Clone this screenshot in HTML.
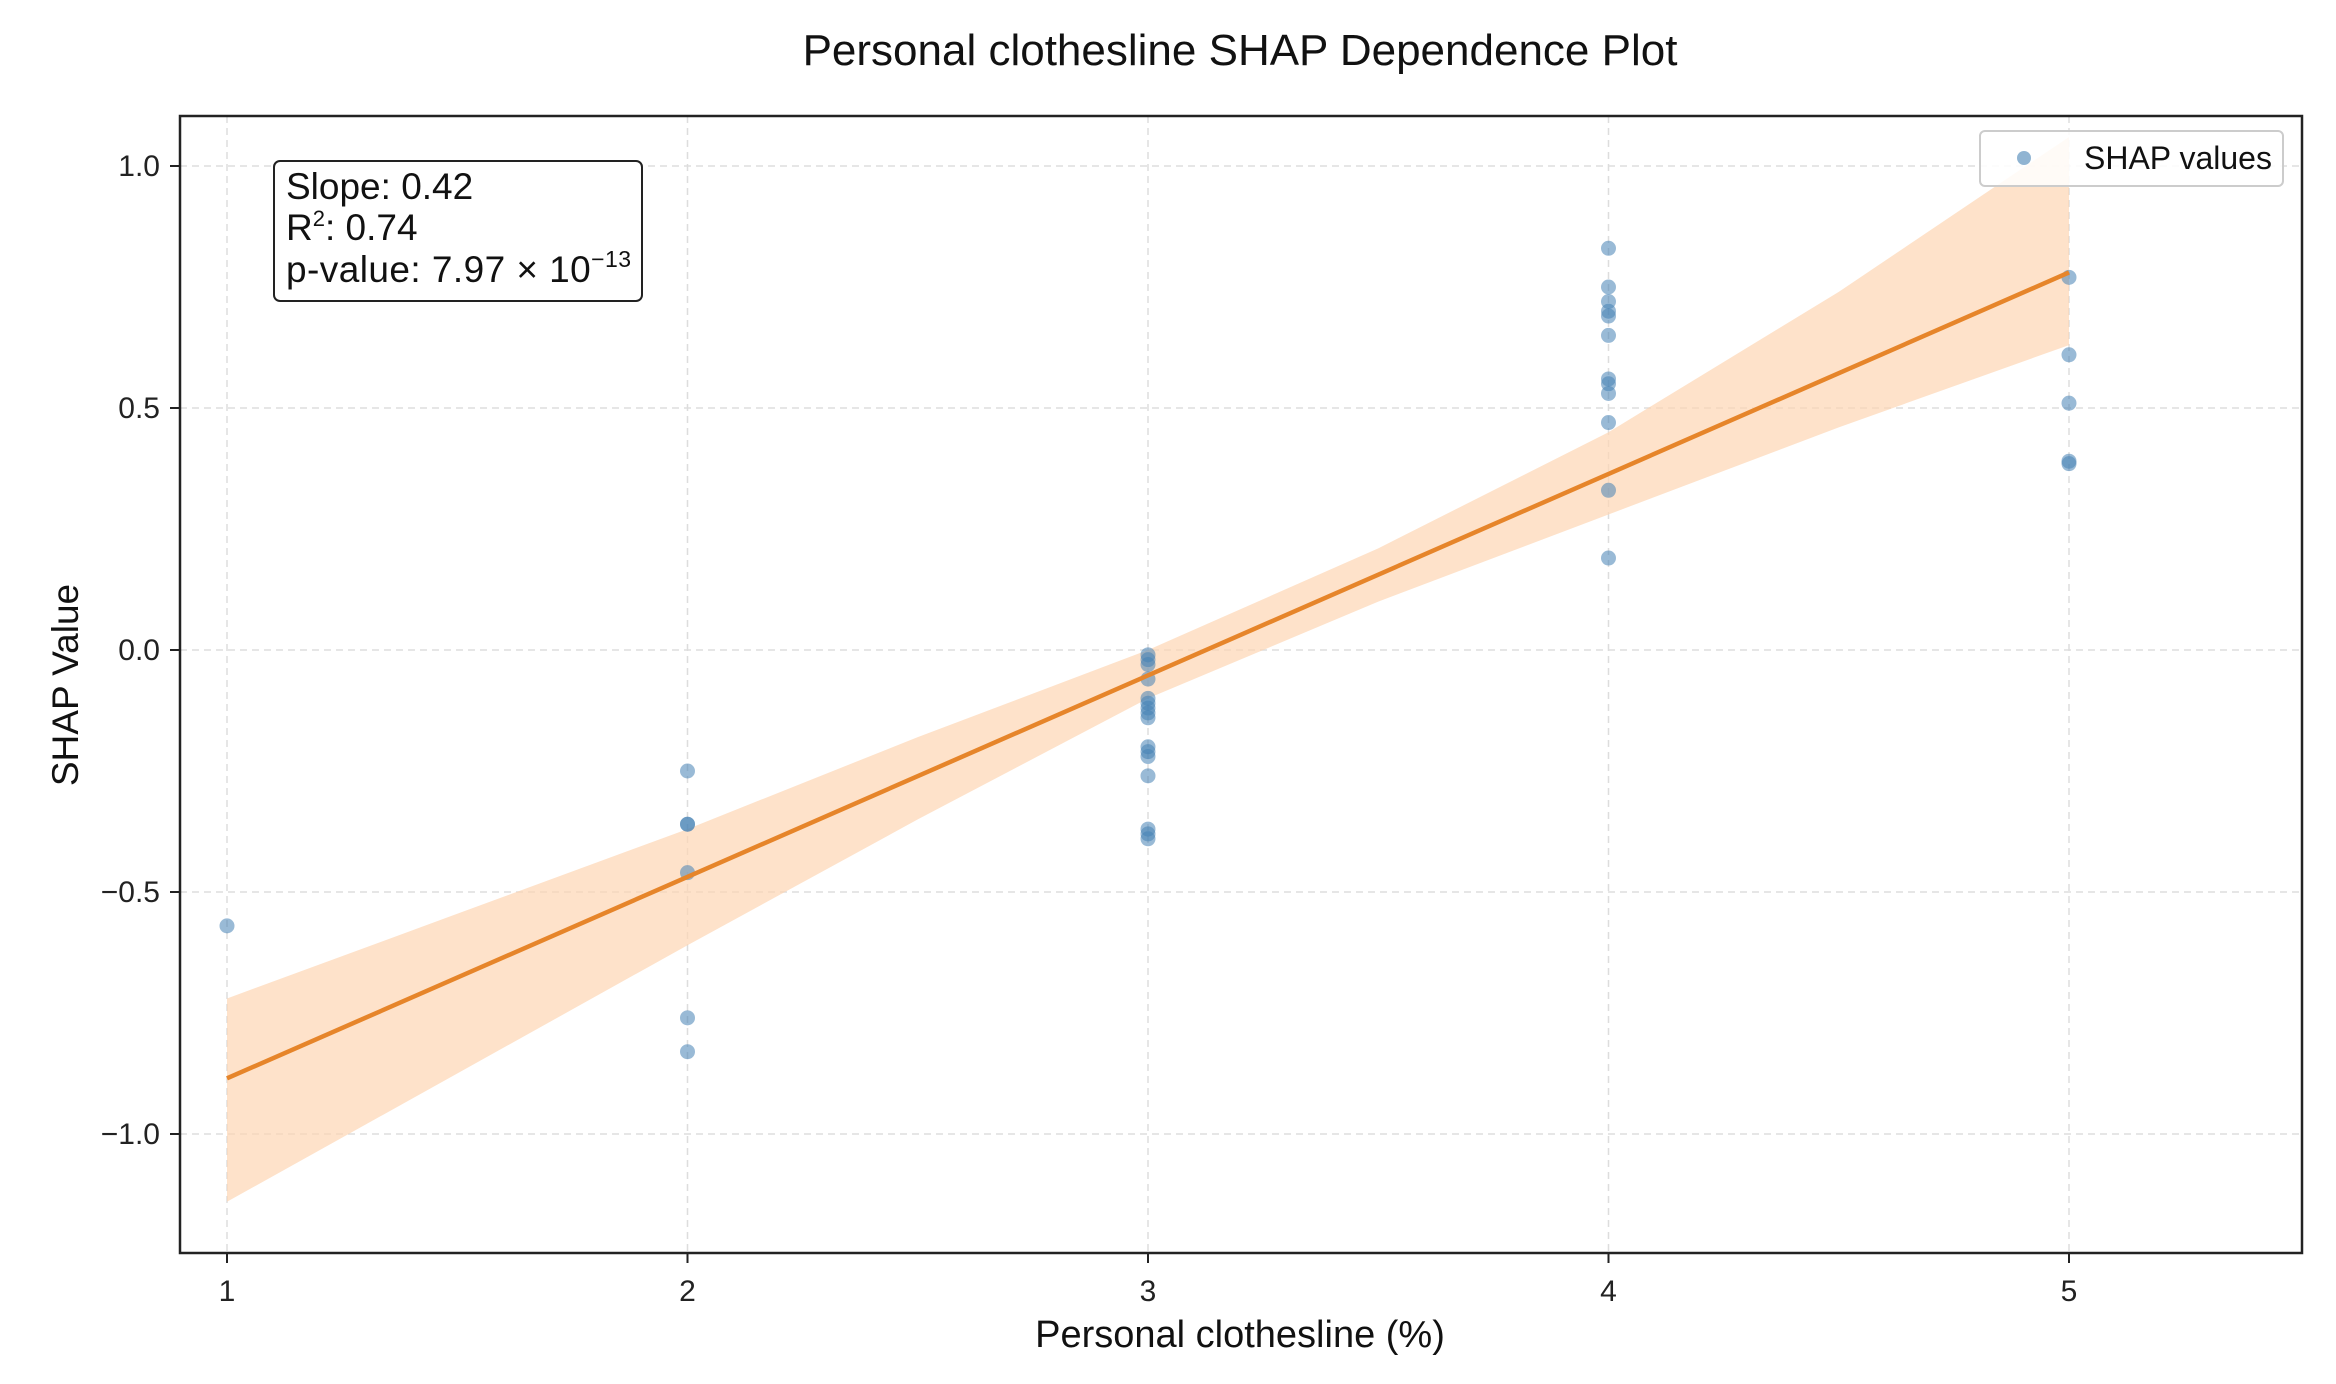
<!DOCTYPE html>
<html><head><meta charset="utf-8"><style>
body{margin:0;background:#fff;}
svg{display:block;font-family:"Liberation Sans",sans-serif;}
</style></head><body>
<svg id="chart" width="2336" height="1384" viewBox="0 0 2336 1384">
<rect width="2336" height="1384" fill="#fff"/>
<text x="1240" y="65" font-size="44" text-anchor="middle" fill="#111">Personal clothesline SHAP Dependence Plot</text>
<g id="grid"></g>
<g id="band"></g>
<g id="pts"></g>
<g id="fit"></g>
<rect x="180" y="116" width="2122" height="1137" fill="none" stroke="#222" stroke-width="2.5"/>
<g id="ticks"></g>
<text x="1240" y="1347" font-size="38" text-anchor="middle" fill="#111">Personal clothesline (%)</text>
<text transform="translate(78,685) rotate(-90)" font-size="37" text-anchor="middle" fill="#111">SHAP Value</text>
<g>
<rect x="274" y="161" width="368" height="140" rx="6" fill="#fff" stroke="#222" stroke-width="2"/>
<text x="286" y="199" font-size="37" fill="#111">Slope: 0.42</text>
<text x="286" y="240" font-size="37" fill="#111">R<tspan font-size="22" dy="-14">2</tspan><tspan dy="14">: 0.74</tspan></text>
<text x="286" y="282" font-size="37" fill="#111" textLength="345">p-value: 7.97 × 10<tspan font-size="23" dy="-15">−13</tspan></text>
</g>
<g>
<rect x="1980" y="131" width="303" height="55" rx="5" fill="#fff" fill-opacity="0.85" stroke="#ccc" stroke-width="2"/>
<circle cx="2024" cy="158" r="7" fill="#4682b4" fill-opacity="0.6"/>
<text x="2084" y="169" font-size="32" fill="#111">SHAP values</text>
</g>
</svg>
<script>
const xs = [1,2,2,2,2,2,2,3,3,3,3,3,3,3,3,3,3,3,3,3,3,3,3,4,4,4,4,4,4,4,4,4,4,4,4,5,5,5,5,5];
const ys = [-0.57,-0.25,-0.36,-0.36,-0.46,-0.76,-0.83,-0.01,-0.02,-0.03,-0.06,-0.10,-0.11,-0.12,-0.13,-0.14,-0.20,-0.21,-0.22,-0.26,-0.37,-0.38,-0.39,0.83,0.75,0.72,0.70,0.69,0.65,0.56,0.55,0.53,0.47,0.33,0.19,0.77,0.61,0.51,0.39,0.385];
const fitX = [1,5];
const fitY = [-0.885,0.78];
const bandX = [1,1.5,2,2.5,3,3.5,4,4.5,5];
const bandUpper = [-0.72,-0.545,-0.37,-0.18,0.0,0.21,0.45,0.74,1.06];
const bandLower = [-1.14,-0.875,-0.61,-0.35,-0.10,0.10,0.28,0.46,0.63];
const xTicks = [1,2,3,4,5];
const xTickLabels = ['1','2','3','4','5'];
const yTicks = [-1,-0.5,0,0.5,1];
const yTickLabels = ['\u22121.0','\u22120.5','0.0','0.5','1.0'];
const NS='http://www.w3.org/2000/svg';
function X(v){return 227+460.5*(v-1);}
function Y(v){return 650-484*v;}
function mk(tag,attrs,parent){const e=document.createElementNS(NS,tag);for(const k in attrs)e.setAttribute(k,attrs[k]);parent.appendChild(e);return e;}
const grid=document.getElementById('grid'),ticks=document.getElementById('ticks');
xTicks.forEach((t,i)=>{
  const g=mk('line',{x1:X(t),x2:X(t),y1:116,y2:1253,stroke:'#ddd','stroke-width':1.5,'stroke-dasharray':'7,5'},grid);
  
  
  mk('line',{x1:X(t),x2:X(t),y1:1253,y2:1263,stroke:'#222','stroke-width':2},ticks);
  const tx=mk('text',{x:X(t),y:1301,'font-size':30,'text-anchor':'middle',fill:'#222'},ticks);
  tx.textContent=xTickLabels[i];
  
  
});
yTicks.forEach((t,i)=>{
  const g=mk('line',{x1:180,x2:2302,y1:Y(t),y2:Y(t),stroke:'#ddd','stroke-width':1.5,'stroke-dasharray':'7,5'},grid);
  
  
  mk('line',{x1:170,x2:180,y1:Y(t),y2:Y(t),stroke:'#222','stroke-width':2},ticks);
  const tx=mk('text',{x:160,y:Y(t)+10,'font-size':30,'text-anchor':'end',fill:'#222'},ticks);
  tx.textContent=yTickLabels[i];
  
  
});
let d='M'+bandX.map((x,i)=>X(x)+','+Y(bandUpper[i])).join(' L');
for(let i=bandX.length-1;i>=0;i--)d+=' L'+X(bandX[i])+','+Y(bandLower[i]);
const band=mk('path',{d:d+'Z',fill:'#fdd5b4','fill-opacity':0.7},document.getElementById('band'));


const pts=document.getElementById('pts');
xs.forEach((x,i)=>{
  const c=mk('circle',{cx:X(x),cy:Y(ys[i]),r:7.5,fill:'#4682b4','fill-opacity':0.55},pts);
  
  
});
const fl=mk('line',{x1:X(fitX[0]),y1:Y(fitY[0]),x2:X(fitX[1]),y2:Y(fitY[1]),stroke:'#e6852a','stroke-width':4.5},document.getElementById('fit'));


</script>
</body></html>
